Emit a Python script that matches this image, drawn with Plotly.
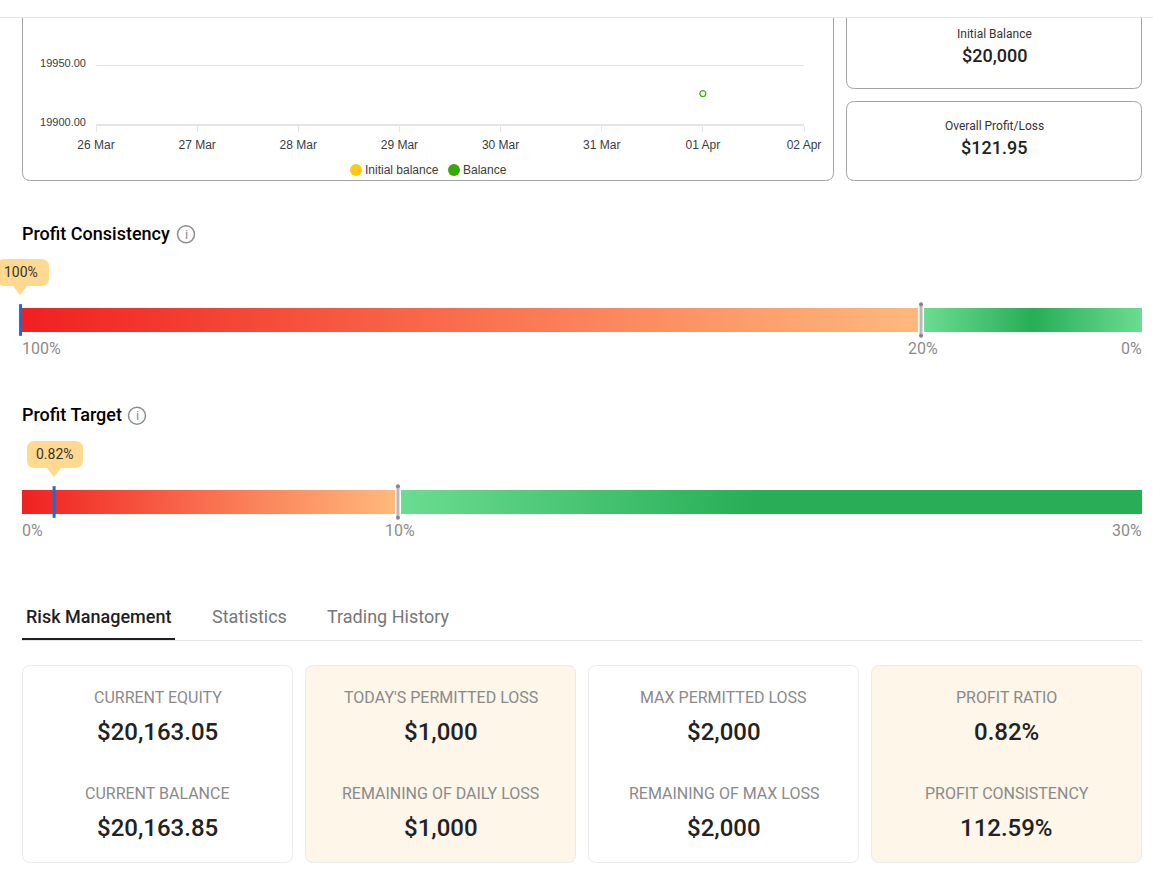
import plotly.graph_objects as go

W, H = 1153, 876
FONT = "Roboto"
CHART_FONT = "Liberation Sans"

# balance chart
dates = ["2025-03-26", "2025-03-27", "2025-03-28", "2025-03-29", "2025-03-30", "2025-03-31", "2025-04-01", "2025-04-02"]
initial_balance = [20000, 20000, 20000, 20000, 20000, 20000, 20000, 20000]
balance_dates = ["2025-04-01"]
balance_values = [19926]
y_ticks = [19900, 19950]
legend_names = ["Initial balance", "Balance"]
legend_colors = ["#fdc912", "#38a806"]

# side cards
side_labels = ["Initial Balance", "Overall Profit/Loss"]
side_values = ["$20,000", "$121.95"]

# progress bars
consistency_title = "Profit Consistency"
consistency_bounds = [100, 19.73, 0]
consistency_value = 100.13
consistency_tip = "100%"
consistency_ticks = ["100%", "20%", "0%"]

target_title = "Profit Target"
target_bounds = [0, 10.07, 30]
target_value = 0.86
target_tip = "0.82%"
target_ticks = ["0%", "10%", "30%"]

# tabs and cards
tab_names = ["Risk Management", "Statistics", "Trading History"]
card_labels = [
    ["CURRENT EQUITY", "CURRENT BALANCE"],
    ["TODAY'S PERMITTED LOSS", "REMAINING OF DAILY LOSS"],
    ["MAX PERMITTED LOSS", "REMAINING OF MAX LOSS"],
    ["PROFIT RATIO", "PROFIT CONSISTENCY"],
]
card_values = [
    ["$20,163.05", "$20,163.85"],
    ["$1,000", "$1,000"],
    ["$2,000", "$2,000"],
    ["0.82%", "112.59%"],
]

RED_SCALE = [[0, "#f02020"], [0.5, "#f9704f"], [1, "#ffb97c"]]
GREY_LINE = "#e4e4e4"
FRAME = "#a3a3a3"
TIP = "#ffd98f"
MEDIUM = 500


def round_rect(x0, y0, x1, y1, r):
    return (f"M{x0 + r},{y0} L{x1 - r},{y0} Q{x1},{y0} {x1},{y0 + r} L{x1},{y1 - r} Q{x1},{y1} {x1 - r},{y1} "
            f"L{x0 + r},{y1} Q{x0},{y1} {x0},{y1 - r} L{x0},{y0 + r} Q{x0},{y0} {x0 + r},{y0} Z")


def tip_path(x0, y0, x1, y1, r, tip_x, tip_y):
    return (f"M{x0 + r},{y0} L{x1 - r},{y0} Q{x1},{y0} {x1},{y0 + r} L{x1},{y1 - r} Q{x1},{y1} {x1 - r},{y1} "
            f"L{tip_x + 7},{y1} L{tip_x},{tip_y} L{tip_x - 7},{y1} "
            f"L{x0 + r},{y1} Q{x0},{y1} {x0},{y1 - r} L{x0},{y0 + r} Q{x0},{y0} {x0 + r},{y0} Z")


shapes = []
annotations = []


def add_path(path, fill="rgba(0,0,0,0)", line="rgba(0,0,0,0)", width=1):
    shapes.append(dict(type="path", xref="x", yref="y", path=path, fillcolor=fill,
                       line=dict(color=line, width=width), layer="below"))


def add_line(x0, y0, x1, y1, color, width=1):
    shapes.append(dict(type="line", xref="x", yref="y", x0=x0, y0=y0, x1=x1, y1=y1,
                       line=dict(color=color, width=width), layer="below"))


def add_circle(cx, cy, r, fill="rgba(0,0,0,0)", line="rgba(0,0,0,0)", width=1):
    shapes.append(dict(type="circle", xref="x", yref="y", x0=cx - r, y0=cy - r, x1=cx + r, y1=cy + r,
                       fillcolor=fill, line=dict(color=line, width=width), layer="below"))


def add_text(x, y, text, size, color, anchor="center", weight=400, family=FONT):
    annotations.append(dict(xref="x", yref="y", x=x, y=y, text=text, showarrow=False, xanchor=anchor,
                            yanchor="middle", borderpad=0, borderwidth=0,
                            font=dict(family=family, size=size, color=color, weight=weight)))


# page header line, chart frame and side cards (cut off at the top)
add_line(0, 17.5, W, 17.5, GREY_LINE)
add_path("M22.5,18 L22.5,172.5 Q22.5,180.5 30.5,180.5 L825.5,180.5 Q833.5,180.5 833.5,172.5 L833.5,18",
         line=FRAME)
add_path("M846.5,18 L846.5,80.5 Q846.5,88.5 854.5,88.5 L1133.5,88.5 Q1141.5,88.5 1141.5,80.5 L1141.5,18",
         line=FRAME)
add_path(round_rect(846.5, 101.5, 1141.5, 180.5, 8), line=FRAME)

for i, yy in enumerate([34, 126]):
    add_text(994, yy, side_labels[i], 12, "#333333")
    add_text(994, yy + 21.5, side_values[i], 18, "#222222", weight=MEDIUM)

# chart legend
for cx, tx, name, color in zip([356, 454], [365, 463], legend_names, legend_colors):
    add_circle(cx, 170, 6, fill=color)
    add_text(tx, 170, name, 12, "#373d3f", anchor="left", family=CHART_FONT)


# the two section headings with the info icon
def heading(y, text, icon_x):
    add_text(22, y, text, 18, "#000000", anchor="left", weight=MEDIUM)
    add_circle(icon_x, y + 1, 8.5, fill="#ffffff", line="#8c8c8c", width=1.5)
    add_text(icon_x, y + 1, "i", 13, "#8c8c8c")


heading(233.3, consistency_title, 186)
heading(414.8, target_title, 137)

# value tooltips above the bars
add_path(tip_path(-3, 259, 49, 286, 8, 20, 295), fill=TIP)
add_text(21, 272, consistency_tip, 14, "#333333")
add_path(tip_path(27, 441, 83, 468, 8, 54, 477), fill=TIP)
add_text(55, 454, target_tip, 14, "#333333")

# bar end labels
for x, t, anc in zip([22, 923, 1142], consistency_ticks, ["left", "center", "right"]):
    add_text(x, 348.5, t, 16, "#8c8c8c", anchor=anc)
for x, t, anc in zip([22, 400, 1142], target_ticks, ["left", "center", "right"]):
    add_text(x, 530.5, t, 16, "#8c8c8c", anchor=anc)

# tabs
for x, name, color, weight, yy in zip([26, 211.5, 326.5], tab_names, ["#1d1f24", "#777777", "#777777"],
                                      [MEDIUM, 400, 400], [616, 616.4, 616.4]):
    add_text(x, yy, name, 18, color, anchor="left", weight=weight)
add_line(22, 640.5, 1142, 640.5, GREY_LINE)
add_line(22, 639, 175, 639, "#1d1f24", 2)

# metric cards
for i, x0 in enumerate([22.5, 305.5, 588.5, 871.5]):
    fill = "#fdf6e9" if i % 2 else "#ffffff"
    add_path(round_rect(x0, 665.5, x0 + 270, 862.5, 8), fill=fill, line="#ebebeb")
    for j, yy in enumerate([697, 793]):
        add_text(x0 + 135, yy, card_labels[i][j], 16, "#8a8a8a")
        add_text(x0 + 135, yy + 35, card_values[i][j], 24, "#222222", weight=MEDIUM)

fig = go.Figure()


def add_bar_segment(lo, hi, xaxis, yaxis, scale):
    fig.add_trace(go.Scatter(x=[lo, hi, hi, lo], y=[0, 0, 1, 1], xaxis=xaxis, yaxis=yaxis, mode="none",
                             fill="toself", fillgradient=dict(type="horizontal", colorscale=scale),
                             hoverinfo="skip", showlegend=False))


def add_marker(value, xaxis, yaxis):
    fig.add_trace(go.Scatter(x=[value, value], y=[-0.16, 1.16], xaxis=xaxis, yaxis=yaxis, mode="lines",
                             line=dict(color="#0b6fe8", width=3), cliponaxis=False,
                             hoverinfo="skip", showlegend=False))


def add_threshold(value, xaxis, yaxis):
    fig.add_trace(go.Scatter(x=[value, value], y=[-0.16, 1.16], xaxis=xaxis, yaxis=yaxis, mode="lines+markers",
                             line=dict(color="#b8b8b8", width=3), marker=dict(color="#858585", size=4),
                             cliponaxis=False, hoverinfo="skip", showlegend=False))


# empty canvas trace so the pixel axes exist first and sit under everything
fig.add_trace(go.Scatter(x=[None], y=[None], xaxis="x", yaxis="y", showlegend=False))

fig.add_trace(go.Scatter(x=dates, y=initial_balance, name=legend_names[0], xaxis="x2", yaxis="y2", mode="lines",
                         line=dict(color=legend_colors[0], width=2), showlegend=False))
fig.add_trace(go.Scatter(x=balance_dates, y=balance_values, name=legend_names[1], xaxis="x2", yaxis="y2",
                         mode="markers", marker=dict(color="#ffffff", size=6, line=dict(color=legend_colors[1], width=1.2)),
                         showlegend=False))

add_bar_segment(consistency_bounds[1] + 0.27, consistency_bounds[0], "x3", "y3", RED_SCALE)
add_bar_segment(consistency_bounds[2], consistency_bounds[1] - 0.27, "x3", "y3",
                [[0, "#6bdc91"], [0.5, "#27ae56"], [1, "#6bdc91"]])
add_threshold(consistency_bounds[1], "x3", "y3")
add_marker(consistency_value, "x3", "y3")

add_bar_segment(target_bounds[0], target_bounds[1] - 0.08, "x4", "y4", RED_SCALE)
add_bar_segment(target_bounds[1] + 0.08, target_bounds[2], "x4", "y4",
                [[0, "#6bdc91"], [0.48, "#27ae56"], [1, "#27ae56"]])
add_threshold(target_bounds[1], "x4", "y4")
add_marker(target_value, "x4", "y4")

hidden = dict(visible=False, fixedrange=True)


# bar axes span the whole page width; the scale is pinned to the bar's pixel ends
def full_range(v_left, v_right, px_left=22, px_right=1142):
    per_px = (v_right - v_left) / (px_right - px_left)
    return [v_left - px_left * per_px, v_left + (W - px_left) * per_px]


fig.update_layout(
    width=W,
    height=H,
    margin=dict(l=0, r=0, t=0, b=0, autoexpand=False),
    paper_bgcolor="#ffffff",
    plot_bgcolor="rgba(0,0,0,0)",
    showlegend=False,
    shapes=shapes,
    annotations=annotations,
    xaxis=dict(hidden, domain=[0, 1], range=[0, W], anchor="y"),
    yaxis=dict(hidden, domain=[0, 1], range=[H, 0], anchor="x"),
    xaxis2=dict(
        domain=[96 / W, 804 / W], range=[dates[0], dates[-1]], type="date", anchor="y2",
        tickvals=dates, tickformat="%d %b", ticks="outside", ticklen=6, tickcolor=GREY_LINE, tickwidth=1,
        showline=True, linecolor=GREY_LINE, linewidth=2, showgrid=False, zeroline=False,
        tickfont=dict(family=CHART_FONT, size=12, color="#373d3f"), ticklabelstandoff=3, fixedrange=True,
    ),
    yaxis2=dict(
        domain=[1 - 124 / H, 1 - 18 / H], range=[19900, 19990.6], anchor="x2",
        tickvals=y_ticks, tickformat=".2f", ticks="", showgrid=True, gridcolor=GREY_LINE, gridwidth=1,
        zeroline=False, showline=False, ticklabelstandoff=9, ticklabelshift=-2,
        tickfont=dict(family=CHART_FONT, size=11, color="#373d3f"), fixedrange=True,
    ),
    xaxis3=dict(hidden, domain=[0, 1], range=full_range(100, 0), anchor="y3"),
    yaxis3=dict(hidden, domain=[1 - 338 / H, 1 - 302 / H], range=[-0.25, 1.25], anchor="x3"),
    xaxis4=dict(hidden, domain=[0, 1], range=full_range(0, 30), anchor="y4"),
    yaxis4=dict(hidden, domain=[1 - 520 / H, 1 - 484 / H], range=[-0.25, 1.25], anchor="x4"),
)

fig.write_html("out.html", config=dict(displayModeBar=False),
               post_script="document.body.style.margin='0';document.documentElement.style.overflow='hidden';")
